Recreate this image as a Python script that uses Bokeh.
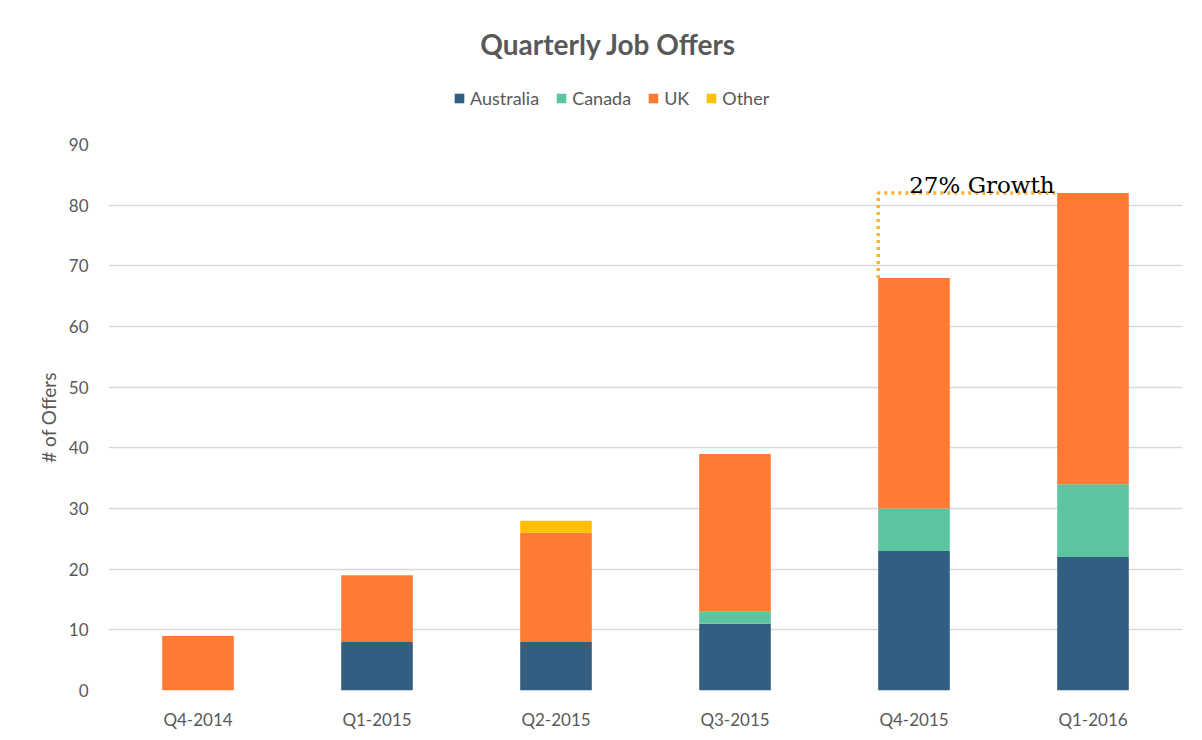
from bokeh.plotting import figure
from bokeh.layouts import column
from bokeh.models import (FactorRange, Range1d, Legend, LegendItem, SingleIntervalTicker, Label)
from bokeh.core.properties import value
from bokeh.embed import file_html
from bokeh.resources import INLINE

quarters = ["Q4-2014", "Q1-2015", "Q2-2015", "Q3-2015", "Q4-2015", "Q1-2016"]
australia = [0, 8, 8, 11, 23, 22]
canada = [0, 0, 0, 2, 7, 12]
uk = [9, 11, 18, 26, 38, 48]
other = [0, 0, 2, 0, 0, 0]
series = ["Australia", "Canada", "UK", "Other"]
colors = ["#325F81", "#5CC4A1", "#FF7A33", "#FFC000"]
title_text = "Quarterly Job Offers"
growth_label = "27% Growth"

totals = [a + c + u + o for a, c, u, o in zip(australia, canada, uk, other)]

TXT = "#595959"
FONT = "Lato"
W = 1194

# ---------- header (title + legend) ----------
head = figure(width=W, height=134, output_backend="svg", toolbar_location=None,
              x_range=Range1d(0, 1), y_range=Range1d(0, 1),
              min_border_left=0, min_border_right=0, min_border_top=0,
              min_border_bottom=0)
head.axis.visible = False
head.grid.visible = False
head.outline_line_color = None
head.border_fill_color = "white"
head.background_fill_color = "white"

# zero-size swatch renderers (only used for the legend keys)
swatches = [head.vbar(x=[0], top=[0], bottom=[0], width=0, color=c, line_color=None)
            for c in colors]
legend = Legend(items=[LegendItem(label=s, renderers=[r]) for s, r in zip(series, swatches)],
                orientation="horizontal", location=(345, 25),
                border_line_color=None, background_fill_alpha=0,
                padding=0, margin=0, spacing=16, label_standoff=5,
                glyph_width=12, glyph_height=12,
                label_text_font=FONT, label_text_font_size="18px",
                label_text_color=TXT)
head.add_layout(legend, "center")
head.add_layout(Label(x=500, y=91, x_units="screen", y_units="screen",
                      text=title_text, text_align="center", text_baseline="middle",
                      text_font=FONT, text_font_size="28px", text_font_style="bold",
                      text_color=TXT))

# ---------- main chart ----------
p = figure(width=W, height=598, output_backend="svg", toolbar_location=None,
           x_range=FactorRange(factors=quarters), y_range=Range1d(0, 90),
           min_border_left=108, min_border_right=12, min_border_top=10,
           min_border_bottom=42)
p.outline_line_color = None
p.background_fill_color = "white"
p.border_fill_color = "white"

data = dict(q=quarters, Australia=australia, Canada=canada, UK=uk, Other=other)
p.vbar_stack(series, x="q", width=0.4, color=colors, line_color=None, source=data)

# growth annotation: from top-left of Q4-2015 bar to level of Q1-2016 top
i0, i1 = 4, 5
xs = [(quarters[i0], -0.2), (quarters[i0], -0.2), (quarters[i1], -0.2)]
ys = [totals[i0], totals[i1], totals[i1]]
p.line(x=xs, y=ys, line_color="#F5B335", line_width=3.5, line_dash="3 4")
p.text(x=[(quarters[i0], -0.2)], y=[totals[i1]], text=[growth_label],
       x_offset=31, y_offset=5, text_font=value("DejaVu Serif"),
       text_font_size="23px", text_color="black", text_baseline="bottom",
       text_align="left")

# axes
p.yaxis.ticker = SingleIntervalTicker(interval=10)
for ax in (p.xaxis[0], p.yaxis[0]):
    ax.axis_line_color = None
    ax.major_tick_line_color = None
    ax.minor_tick_line_color = None
    ax.major_label_text_color = TXT
    ax.major_label_text_font = FONT
    ax.major_label_text_font_size = "17px"
p.yaxis.major_label_standoff = 14
p.xaxis.major_label_standoff = 12
p.yaxis.axis_label = "# of Offers"
p.yaxis.axis_label_text_font = FONT
p.yaxis.axis_label_text_font_style = "normal"
p.yaxis.axis_label_text_font_size = "19px"
p.yaxis.axis_label_text_color = TXT
p.yaxis.axis_label_standoff = 6

p.xgrid.grid_line_color = None
p.ygrid.grid_line_color = "#D9D9D9"
p.ygrid.grid_line_width = 1.5

open("out.html", "w").write(file_html(column(head, p, spacing=0), INLINE))
